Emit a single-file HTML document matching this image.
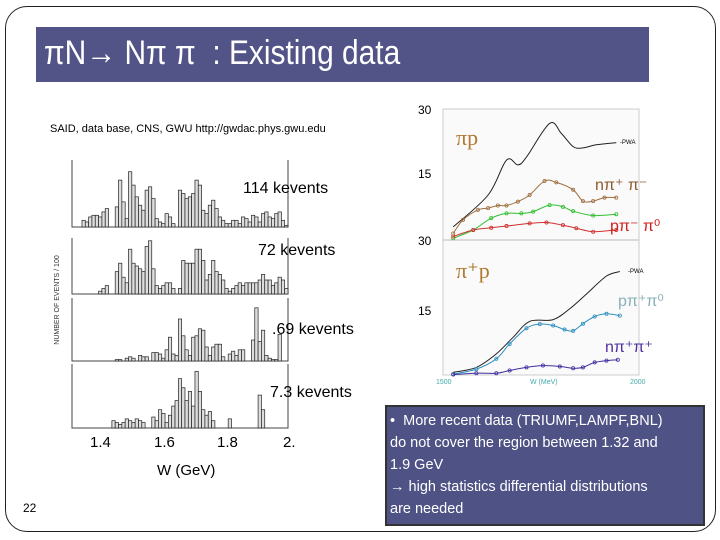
<!DOCTYPE html>
<html><head><meta charset="utf-8"><style>
body{margin:0;background:#fff;font-family:"Liberation Sans",sans-serif}
#slide{position:relative;width:720px;height:540px;overflow:hidden;background:#fff}
.t{position:absolute;white-space:nowrap}
</style></head><body>
<div id="slide">
<div class="t" style="left:5px;top:6px;width:709px;height:524px;border:1px solid #222;border-radius:22px"></div>
<div class="t" style="left:36px;top:27px;width:613px;height:55px;background:#525488"></div>
<div class="t" style="left:44px;top:34px;font-size:34px;color:#fff;transform:scaleX(0.88);transform-origin:left">πN→ Nπ π&nbsp; : Existing data</div>
<div class="t" style="left:50px;top:123px;font-size:11px;color:#000">SAID, data base, CNS, GWU http://gwdac.phys.gwu.edu</div>
<svg id="hist" width="720" height="540" style="position:absolute;left:0;top:0"></svg>
<div class="t" style="left:243px;top:180px;font-size:16px">114 kevents</div>
<div class="t" style="left:258px;top:242px;font-size:16px">72 kevents</div>
<div class="t" style="left:272px;top:321px;font-size:16px">.69 kevents</div>
<div class="t" style="left:270px;top:384px;font-size:16px">7.3 kevents</div>
<div class="t" style="left:90px;top:434px;font-size:15px">1.4</div>
<div class="t" style="left:154px;top:434px;font-size:15px">1.6</div>
<div class="t" style="left:217px;top:434px;font-size:15px">1.8</div>
<div class="t" style="left:283px;top:434px;font-size:15px">2.</div>
<div class="t" style="left:157px;top:462px;font-size:15px">W (GeV)</div>
<div class="t" style="left:23px;top:501px;font-size:12px">22</div>
<div class="t" style="left:385px;top:405px;width:316px;height:117px;background:#4f5285;border:2px solid #333"></div>
<div class="t" style="left:390px;top:410px;color:#fff;font-size:14.5px;line-height:22px">•&nbsp; More recent data (TRIUMF,LAMPF,BNL)<br>do not cover the region between 1.32 and<br>1.9 GeV<br>→ high statistics differential distributions<br>are needed</div>
<svg id="xs" width="720" height="540" style="position:absolute;left:0;top:0"></svg>
</div>
<script>
const p1 = [0,0,0,4,3,6,7,7,6,9,11,0,0,12,28,15,5,33,25,18,13,10,22,24,17,5,3,2,8,6,2,0,22,20,17,18,20,28,25,10,8,13,16,11,6,4,2,2,4,4,2,6,5,3,7,6,3,8,9,6,5,8,9,4,1];
const p2 = [0,0,0,0,0,0,0,0,1,2,3,0,0,8,11,6,4,16,11,10,9,8,17,19,9,3,2,3,4,4,2,0,2,12,11,11,11,16,16,12,5,7,12,8,7,5,2,1,2,3,4,3,4,4,4,4,5,7,5,5,3,4,6,5,2];
const p3 = [0,0,0,0,0,0,0,0,0,0,0,0,0,1,1,0,2,3,2,0,4,3,3,0,6,6,5,2,8,17,5,4,30,18,8,4,17,18,23,22,10,4,10,12,12,3,0,5,7,4,8,8,0,0,15,38,14,22,4,2,1,1,19,0,0];
const p4 = [0,0,0,0,0,0,0,0,0,0,0,0,0.4,0.3,0.2,0.3,0.5,0.4,0.3,0.5,0.4,0.3,0,0,0.6,0.4,1.0,0.8,0.3,0.7,1.2,1.5,2.7,2.2,1.5,2.0,1.2,3.1,2.0,1.0,0.7,0.9,0.4,0,0,0,0,0.5,0,0,0,0,0,0,0,0,1.8,1.0,0,0,0,0,0,0,0];
const panelMax = [40,20,45,3.5];
const W_PWA1=[1526,1615,1662,1691,1713,1772,1802,1832,1857,1891,1942];
const S_PWA1=[3,10.3,18.3,17.2,19,26.7,24.4,21.4,21.1,21.8,22.3];
const W_npm=[1526,1551,1589,1615,1640,1662,1691,1721,1759,1789,1832,1857,1883,1912,1942];
const S_npm=[1.5,4.6,6.9,7.3,7.9,7.9,8.8,10.3,13.5,13.2,11.5,8.9,8.9,9.7,9.7];
const W_pm0=[1526,1577,1623,1662,1700,1730,1772,1806,1832,1883,1942];
const S_pm0=[0.4,2.3,5,6.1,6.1,6.5,8,7.6,6.6,5.6,5.9];
const W_n00=[1526,1577,1623,1662,1721,1764,1806,1840,1883,1942];
const S_n00=[0.8,2.3,2.8,3.2,3.8,4,3.4,2.7,1.9,2.3];
const W_PWA2=[1526,1585,1636,1679,1721,1781,1823,1866,1917,1951];
const S_PWA2=[0.6,1.7,4.7,8.4,11.9,12.3,14.7,18,22,23];
const W_pp0=[1526,1585,1636,1670,1713,1747,1781,1810,1832,1857,1887,1917,1951];
const S_pp0=[0.2,1.3,3.6,6.9,10.4,11.3,11,10.1,9.8,11.4,13,13.6,13.2];
const W_npp=[1526,1585,1636,1670,1713,1755,1798,1832,1857,1887,1917,1946];
const S_npp=[0.1,0.4,0.4,1,1.7,2.1,1.9,1.5,1.7,2.8,3.2,3.4];
const NS='http://www.w3.org/2000/svg';
function mk(svg,tag,attrs){const e=document.createElementNS(NS,tag);for(const k in attrs)e.setAttribute(k,attrs[k]);svg.appendChild(e);return e;}
const hs=document.getElementById('hist');
const panels=[[p1,160,227],[p2,238,294],[p3,298,361],[p4,364,428]];
const hx0=72,hx1=288;
panels.forEach((pp,pi)=>{
  const [vals,top,base]=pp;
  const ax=mk(hs,'path',{d:`M${hx0} ${top}V${base}H${hx1}V${top}`,stroke:'#444','stroke-width':1,fill:'none'});
  
  
  const bw=(hx1-hx0)/vals.length;
  const ys=v=>base-(v/panelMax[pi])*(base-top);
  vals.forEach((v,i)=>{
    if(v<=0)return;
    const r=mk(hs,'rect',{x:hx0+i*bw,y:ys(v),width:bw,height:base-ys(v),fill:'#ddd',stroke:'#222','stroke-width':0.7});
    
    
  });
});
const yl=mk(hs,'text',{x:0,y:0,'font-size':7,fill:'#333',transform:'translate(59,300) rotate(-90)','text-anchor':'middle','font-family':'Liberation Sans'});
yl.textContent='NUMBER OF EVENTS / 100';


const xs=document.getElementById('xs');
const X0=443,X1=639;
const xW=w=>X0+(w-1500)/500*(X1-X0);
const topY0=109,topY1=240,botY0=240,botY1=375;
const yT=s=>topY1-s/30*(topY1-topY0);
const yB=s=>botY1-s/30*(botY1-botY0);
const fr=mk(xs,'rect',{x:X0,y:topY0,width:X1-X0,height:botY1-topY0,fill:'#fafafa',stroke:'#ccc','stroke-width':1});


const mid=mk(xs,'line',{x1:X0,x2:X1,y1:topY1,y2:topY1,stroke:'#bbb'});


function smooth(pts){
  let d='M'+pts[0][0].toFixed(1)+' '+pts[0][1].toFixed(1);
  for(let i=0;i<pts.length-1;i++){
    const p0=pts[Math.max(0,i-1)],p1=pts[i],p2=pts[i+1],p3=pts[Math.min(pts.length-1,i+2)];
    const c1=[p1[0]+(p2[0]-p0[0])/6,p1[1]+(p2[1]-p0[1])/6],c2=[p2[0]-(p3[0]-p1[0])/6,p2[1]-(p3[1]-p1[1])/6];
    d+=`C${c1[0].toFixed(1)} ${c1[1].toFixed(1)} ${c2[0].toFixed(1)} ${c2[1].toFixed(1)} ${p2[0].toFixed(1)} ${p2[1].toFixed(1)}`;
  }
  return d;
}
function series(W,S,yf,color,name,marker){
  const pts=W.map((w,i)=>[xW(w),yf(S[i])]);
  const p=mk(xs,'path',{d:smooth(pts),stroke:color,fill:'none','stroke-width':1});
  
  
  if(marker)pts.forEach(pt=>{const c=mk(xs,'circle',{cx:pt[0],cy:pt[1],r:1.6,fill:'none',stroke:color,'stroke-width':0.8});
    
    });
}
series(W_PWA1,S_PWA1,yT,'#222','pwa-pi-minus-p',false);
series(W_npm,S_npm,yT,'#a07040','n-piplus-piminus',true);
series(W_pm0,S_pm0,yT,'#30c030','p-piminus-pi0',true);
series(W_n00,S_n00,yT,'#d03030','n-pi0-pi0',true);
series(W_PWA2,S_PWA2,yB,'#222','pwa-pi-plus-p',false);
series(W_pp0,S_pp0,yB,'#3090c0','p-piplus-pi0',true);
series(W_npp,S_npp,yB,'#4030a0','n-piplus-piplus',true);
function txt(x,y,s,attrs,name){const t=mk(xs,'text',Object.assign({x,y,'font-family':'Liberation Sans'},attrs));t.textContent=s;return t;}
txt(418,114,'30',{'font-size':12},'y-tick-30-top');
txt(418,178,'15',{'font-size':12},'y-tick-15-top');
txt(418,245,'30',{'font-size':12},'y-tick-30-bottom');
txt(418,315,'15',{'font-size':12},'y-tick-15-bottom');
txt(436,384,'1500',{'font-size':7,fill:'#4aa'},'x-tick-1500');
txt(630,384,'2000',{'font-size':7,fill:'#4aa'},'x-tick-2000');
txt(530,384,'W (MeV)',{'font-size':7,fill:'#4aa'},'x-axis-title-mev');
txt(456,145,'πp',{'font-size':22,fill:'#b07a30','font-family':'Liberation Serif'},'label-pi-minus-p');
txt(456,278,'π⁺p',{'font-size':22,fill:'#b07a30','font-family':'Liberation Serif'},'label-pi-plus-p');
txt(595,190,'nπ⁺ π⁻',{'font-size':16,fill:'#8a5a30'},'label-n-piplus-piminus');
txt(610,231,'pπ⁻ π⁰',{'font-size':16,fill:'#d02020'},'label-p-piminus-pi0');
txt(618,306,'pπ⁺π⁰',{'font-size':16,fill:'#8ab0b8'},'label-p-piplus-pi0');
txt(605,352,'nπ⁺π⁺',{'font-size':16,fill:'#5030a0'},'label-n-piplus-piplus');
txt(620,144,'-PWA',{'font-size':6},'label-pwa-top');
txt(628,273,'-PWA',{'font-size':6},'label-pwa-bottom');
</script>
</body></html>
